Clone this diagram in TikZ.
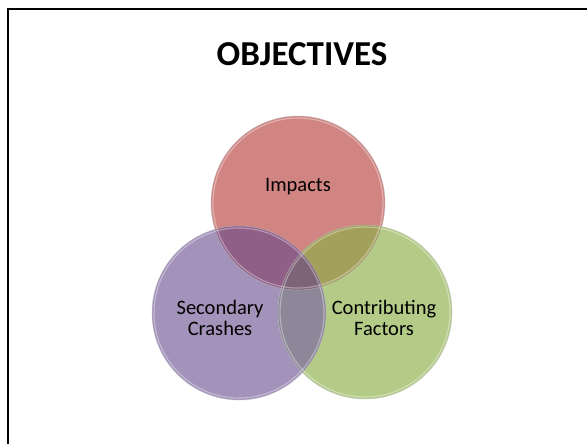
\documentclass[tikz,border=0pt]{standalone}
\usepackage{fontspec}
\setmainfont{Carlito}
\usetikzlibrary{positioning}

\definecolor{impred}{HTML}{D08583}
\definecolor{secpurple}{HTML}{A392BA}
\definecolor{congreen}{HTML}{B4CB88}
\definecolor{redpurple}{HTML}{8F5F88}
\definecolor{redgreen}{HTML}{A3A05C}
\definecolor{purplegreen}{HTML}{8D8799}
\definecolor{allthree}{HTML}{7E6478}

\begin{document}
\begin{tikzpicture}[x=1pt,y=-1pt]

\tikzset{venn/.style={circle, minimum size=174pt, inner sep=0pt}}
\tikzset{rim/.style={white, opacity=0.35, line width=1.2pt}}
\tikzset{lbl/.style={font=\fontsize{20.5}{21.5}\selectfont, align=center, inner sep=0pt}}

\def\rad{87pt}

\useasboundingbox (0,0) rectangle (587,444);
\clip (0,0) rectangle (587,444);

% frame
\draw[line width=2pt] (8,9.5) rectangle (620,480);

\node[font=\fontsize{35}{40}\selectfont\bfseries] (title) at (302,54) {OBJECTIVES};

% the three circles
\node[venn, fill=impred] (impacts) at (298,203) {};
\node[venn, fill=secpurple] (secondary) at (239,313) {};
\node[venn, fill=congreen] (contrib) at (365,312) {};

% overlaps
\begin{scope}
\clip (impacts.center) circle (\rad);
\fill[redpurple] (secondary.center) circle (\rad);
\fill[redgreen] (contrib.center) circle (\rad);
\end{scope}
\begin{scope}
\clip (secondary.center) circle (\rad);
\fill[purplegreen] (contrib.center) circle (\rad);
\clip (impacts.center) circle (\rad);
\fill[allthree] (contrib.center) circle (\rad);
\end{scope}

% rims
\draw[rim] (impacts.center) circle (85pt);
\draw[rim] (secondary.center) circle (85pt);
\draw[rim] (contrib.center) circle (85pt);
\draw[black!25, opacity=0.6, line width=0.6pt] (impacts.center) circle (\rad);
\draw[black!25, opacity=0.6, line width=0.6pt] (secondary.center) circle (\rad);
\draw[black!25, opacity=0.6, line width=0.6pt] (contrib.center) circle (\rad);

% labels
\node[lbl] (impactslbl) at (298,187) {Impacts};
\node[lbl] (secondarylbl) at (220,318) {Secondary\\Crashes};
\node[lbl] (contriblbl) at (384,318) {Contributing\\Factors};

\end{tikzpicture}
\end{document}
